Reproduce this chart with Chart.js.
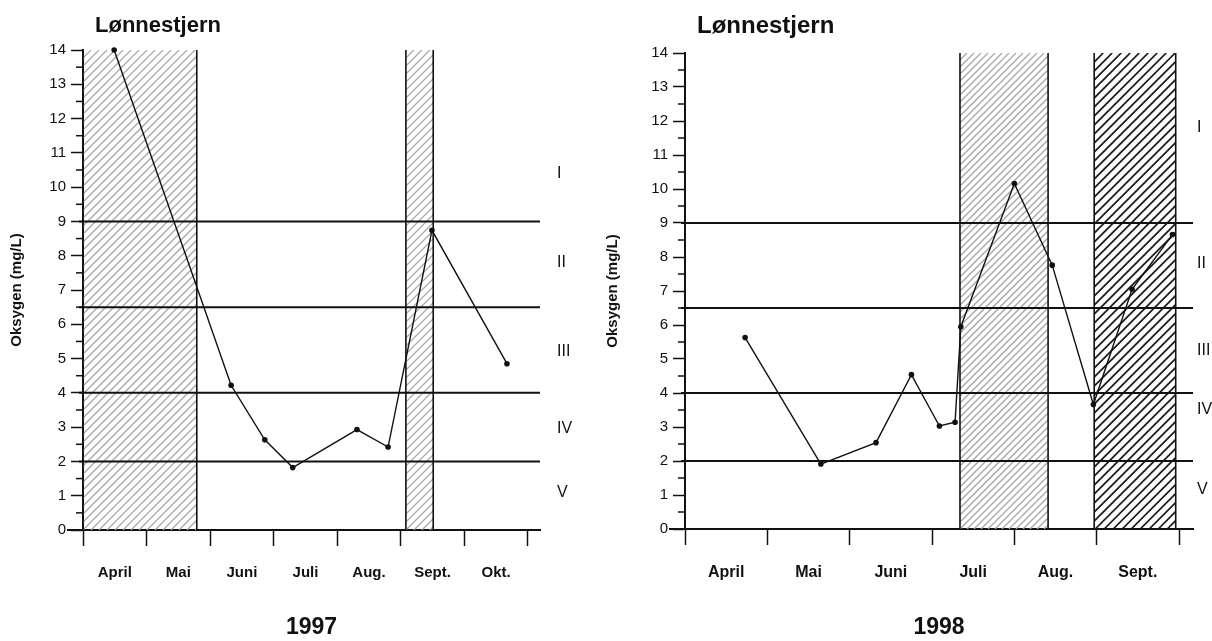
<!DOCTYPE html>
<html>
<head>
<meta charset="utf-8">
<script src="https://cdn.jsdelivr.net/npm/chart.js@4.4.1/dist/chart.umd.min.js"></script>
<style>
  html, body { margin: 0; padding: 0; background: #fff; }
  .panel { position: absolute; top: 0; }
</style>
</head>
<body>
<div class="panel" style="left:0"><canvas id="chart1997" width="600" height="641"></canvas></div>
<div class="panel" style="left:600px"><canvas id="chart1998" width="612" height="641"></canvas></div>
<script>
// month labels (x = months since 1 April)
const months1997 = ["April", "Mai", "Juni", "Juli", "Aug.", "Sept.", "Okt."];
const months1998 = ["April", "Mai", "Juni", "Juli", "Aug.", "Sept."];

// oxygen measurements, 1997
const time1997 = [0.49, 2.33, 2.86, 3.30, 4.31, 4.80, 5.49, 6.67];
const oxygen1997 = [14.0, 4.22, 2.63, 1.82, 2.93, 2.42, 8.74, 4.85];

// oxygen measurements, 1998
const time1998 = [0.73, 1.65, 2.32, 2.75, 3.09, 3.28, 3.35, 4.0, 4.46, 4.96, 5.43, 5.92];
const oxygen1998 = [5.63, 1.91, 2.54, 4.54, 3.03, 3.14, 5.95, 10.16, 7.76, 3.66, 7.05, 8.66];

// hatched periods (start / end in months)
const bandStart1997 = [0, 5.08];
const bandEnd1997 = [1.79, 5.51];
const bandStart1998 = [3.34, 4.97];
const bandEnd1998 = [4.41, 5.96];

// tilstandsklasser
const classLimits = [9, 6.5, 4, 2];
const classNames = ["I", "II", "III", "IV", "V"];
const classLabelAt1997 = [10.4, 7.8, 5.2, 2.95, 1.1];
const classLabelAt1998 = [11.8, 7.8, 5.25, 3.5, 1.15];

const titleText = "Lønnestjern";
const yTitle = "Oksygen (mg/L)";

Chart.defaults.font.family = "'Liberation Sans', Arial, sans-serif";
Chart.defaults.color = "#111";

const INK = "#111";
const lightHatch97 = { color: "#a8a8a8", width: 1.3, gap: 8 };
const lightHatch98 = { color: "#a8a8a8", width: 1.3, gap: 7 };
const darkHatch = { color: "#1a1a1a", width: 1.7, gap: 9 };

// draws hatched bands, class lines, class labels, minor ticks and title
const panelPlugin = {
  id: "panel",
  beforeDatasetsDraw(chart, args, opts) {
    const { ctx, chartArea: a, scales } = chart;
    const x = scales.x, y = scales.y;
    const yTop = y.getPixelForValue(y.max);
    const yBot = y.getPixelForValue(0);

    // hatched periods
    opts.bandStart.forEach((s, i) => {
      const x0 = x.getPixelForValue(s);
      const x1 = x.getPixelForValue(opts.bandEnd[i]);
      const st = opts.bandStyle[i];
      const h = yBot - yTop;
      ctx.save();
      ctx.beginPath();
      ctx.rect(x0, yTop, x1 - x0, h);
      ctx.clip();
      ctx.strokeStyle = st.color;
      ctx.lineWidth = st.width;
      ctx.beginPath();
      for (let k = x0 - h; k < x1; k += st.gap) {
        ctx.moveTo(k, yBot);
        ctx.lineTo(k + h, yTop);
      }
      ctx.stroke();
      ctx.restore();

      ctx.save();
      ctx.strokeStyle = INK;
      ctx.lineWidth = 1.6;
      ctx.beginPath();
      ctx.moveTo(x0, yBot); ctx.lineTo(x0, yTop);
      ctx.moveTo(x1, yBot); ctx.lineTo(x1, yTop);
      ctx.stroke();
      ctx.restore();
    });

    // class limits
    ctx.save();
    ctx.strokeStyle = INK;
    ctx.lineWidth = 2;
    classLimits.forEach((v) => {
      const py = y.getPixelForValue(v);
      ctx.beginPath();
      ctx.moveTo(a.left - 4, py);
      ctx.lineTo(a.right, py);
      ctx.stroke();
    });

    // x axis line runs a bit past the y axis
    ctx.beginPath();
    ctx.moveTo(a.left - 16, yBot);
    ctx.lineTo(a.left, yBot);
    ctx.stroke();

    // minor y ticks
    ctx.lineWidth = 1.5;
    for (let v = 0.5; v < y.max; v += 1) {
      const py = y.getPixelForValue(v);
      ctx.beginPath();
      ctx.moveTo(a.left - 7, py);
      ctx.lineTo(a.left, py);
      ctx.stroke();
    }

    // class labels
    ctx.fillStyle = INK;
    ctx.font = "16px 'Liberation Sans', Arial, sans-serif";
    ctx.textBaseline = "middle";
    ctx.textAlign = "left";
    classNames.forEach((n, i) => {
      ctx.fillText(n, a.right + opts.labelOffset, y.getPixelForValue(opts.labelAt[i]));
    });

    // panel title
    ctx.font = "bold " + opts.titleSize + "px 'Liberation Sans', Arial, sans-serif";
    ctx.textBaseline = "alphabetic";
    ctx.fillText(titleText, opts.titleX, opts.titleY);
    ctx.restore();
  }
};

function makePanel(id, year, months, times, values, bands, labelAt, geo) {
  const xMax = geo.xMax;
  const points = times.map((t, i) => ({ x: t, y: values[i] }));
  return new Chart(document.getElementById(id), {
    type: "line",
    data: {
      datasets: [{
        data: points,
        borderColor: INK,
        backgroundColor: INK,
        borderWidth: 1.4,
        pointRadius: 2.8,
        pointBackgroundColor: INK,
        pointBorderWidth: 0,
        tension: 0,
        clip: false
      }]
    },
    options: {
      responsive: false,
      animation: false,
      devicePixelRatio: 1,
      layout: { padding: { top: geo.top, left: 0, right: geo.right, bottom: 0 } },
      plugins: {
        legend: { display: false },
        tooltip: { enabled: false },
        panel: {
          bandStart: bands.start,
          bandEnd: bands.end,
          bandStyle: bands.style,
          labelAt: labelAt,
          labelOffset: geo.labelOffset,
          titleX: geo.titleX,
          titleY: geo.titleY,
          titleSize: geo.titleSize
        }
      },
      scales: {
        x: {
          type: "linear",
          position: "bottom",
          weight: 0,
          min: 0,
          max: xMax,
          afterBuildTicks: (s) => {
            s.ticks = months.map((m, i) => ({ value: i })).concat([{ value: months.length }]);
          },
          ticks: { display: false },
          grid: { drawOnChartArea: false, drawTicks: true, tickLength: 16, tickColor: INK, tickWidth: 1.5 },
          border: { display: true, color: INK, width: 2 },
          afterFit: (s) => { s.height = 16; }
        },
        x2: {
          type: "linear",
          position: "bottom",
          weight: 1,
          min: 0,
          max: xMax,
          afterBuildTicks: (s) => {
            s.ticks = months.map((m, i) => ({ value: i + 0.5 }));
          },
          ticks: {
            autoSkip: false,
            maxRotation: 0,
            padding: 18,
            color: INK,
            font: { size: geo.monthSize, weight: "bold" },
            callback: (v, i) => months[i]
          },
          grid: { display: false, drawTicks: false },
          border: { display: false },
          title: {
            display: true,
            text: year,
            color: INK,
            font: { size: 23, weight: "bold" },
            padding: { top: 0, bottom: 0 }
          },
          afterFit: (s) => { s.height = geo.bottomHeight; }
        },
        y: {
          type: "linear",
          position: "left",
          min: 0,
          max: 14,
          ticks: { stepSize: 1, color: INK, padding: 5, font: { size: 15 } },
          grid: { drawOnChartArea: false, tickLength: 12, tickColor: INK, tickWidth: 1.5 },
          border: { color: INK, width: 2 },
          title: {
            display: true,
            text: yTitle,
            color: INK,
            font: { size: 15, weight: "bold" },
            padding: { top: geo.yTitlePad, bottom: 0 }
          },
          afterFit: (s) => { s.width = geo.axisLeft; }
        }
      }
    },
    plugins: [panelPlugin]
  });
}

makePanel("chart1997", "1997", months1997, time1997, oxygen1997,
  { start: bandStart1997, end: bandEnd1997, style: [lightHatch97, lightHatch97] },
  classLabelAt1997,
  { xMax: 7.19, top: 50, right: 60, axisLeft: 83, bottomHeight: 95, labelOffset: 17,
    titleX: 95, titleY: 32, titleSize: 22, monthSize: 15, yTitlePad: 8 });

makePanel("chart1998", "1998", months1998, time1998, oxygen1998,
  { start: bandStart1998, end: bandEnd1998, style: [lightHatch98, darkHatch] },
  classLabelAt1998,
  { xMax: 6.17, top: 53, right: 19, axisLeft: 85, bottomHeight: 96, labelOffset: 4,
    titleX: 97, titleY: 33, titleSize: 24, monthSize: 16, yTitlePad: 4 });
</script>
</body>
</html>
